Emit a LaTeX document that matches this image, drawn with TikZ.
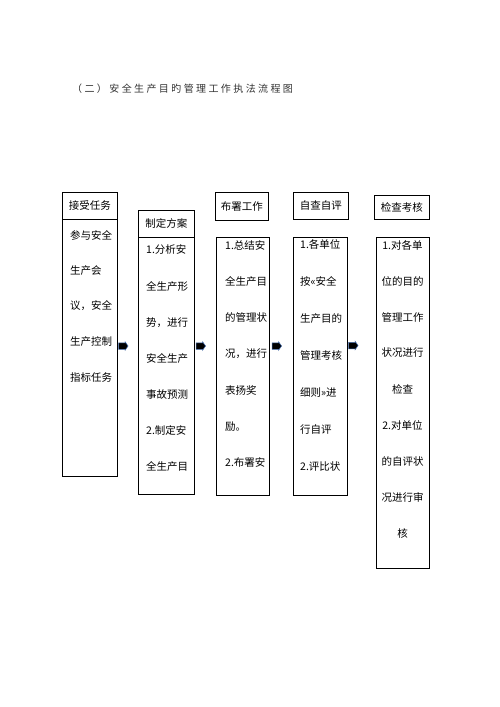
\documentclass[tikz,border=0pt]{standalone}
\usepackage{fontspec}
\setmainfont{Noto Sans CJK SC}
\usetikzlibrary{shapes.arrows}

\begin{document}
\begin{tikzpicture}[x=1pt, y=-1pt,
	box/.style={draw, line width=0.8pt, inner sep=0pt, anchor=north west,
		font=\fontsize{10.5}{12}\selectfont},
	txt/.style={anchor=west, inner sep=0pt, font=\fontsize{10.5}{12}\selectfont},
	blockarrow/.style={single arrow, fill=black, draw={rgb,255:red,70;green,110;blue,175},
		line width=0.5pt, minimum height=9.5pt, minimum width=8pt,
		single arrow head extend=1pt, single arrow tip angle=110,
		inner xsep=0pt, inner ysep=3pt, anchor=west}]

	\useasboundingbox (0,0) rectangle (500,707);

	% === TITLE === (((
	\node [anchor=west, inner sep=0pt, text=black!80,
		font=\fontsize{10}{12}\selectfont\addfontfeatures{LetterSpace=24}]
		(title) at (72,89) {（二）安全生产目旳管理工作执法流程图};
	% )))

	% === HEADERS === (((
	\node [box, minimum width=55pt, minimum height=27pt] (hd1) at (62,192) {接受任务};
	\node [box, minimum width=56pt, minimum height=27pt] (hd2) at (138,210) {制定方案};
	\node [box, minimum width=53pt, minimum height=28pt] (hd3) at (215,192) {布署工作};
	\node [box, minimum width=55pt, minimum height=27pt] (hd4) at (293,192) {自查自评};
	\node [box, minimum width=55pt, minimum height=24pt] (hd5) at (374,195) {检查考核};
	% )))

	% === BODIES === (((
	\node [box, minimum width=55pt, minimum height=257pt] (bd1) at (62,219) {};
	\node [box, minimum width=56pt, minimum height=257pt] (bd2) at (138,237) {};
	\node [box, minimum width=53pt, minimum height=258pt] (bd3) at (216,237) {};
	\node [box, minimum width=54pt, minimum height=258pt] (bd4) at (293,237) {};
	\node [box, minimum width=53pt, minimum height=331pt] (bd5) at (376,237) {};

	\foreach \s [count=\i] in {参与安全,生产会,议，安全,生产控制,指标任务}
		\node [txt] (ta-\i) at (70,{235+35.5*(\i-1)}) {\s};
	\foreach \s [count=\i] in {1.分析安,全生产形,势，进行,安全生产,事故预测,2.制定安,全生产目}
		\node [txt] (tb-\i) at (146,{250+36.1*(\i-1)}) {\s};
	\foreach \s [count=\i] in {1.总结安,全生产目,的管理状,况，进行,表扬奖,励。,2.布署安}
		\node [txt] (tc-\i) at (225,{245+36.3*(\i-1)}) {\s};
	\foreach \s [count=\i] in {1.各单位,按«安全,生产目的,管理考核,细则»进,行自评,2.评比状}
		\node [txt] (td-\i) at (300,{244+37.1*(\i-1)}) {\s};
	\foreach \s [count=\i] in {1.对各单,位的目的,管理工作,状况进行,检查,2.对单位,的自评状,况进行审,核}
		\node [txt, anchor=center] (te-\i) at (402.5,{245+36*(\i-1)}) {\s};
	% )))

	% === ARROWS === (((
	\coordinate (mid) at (0,346);
	\node [blockarrow] (ar1) at ([xshift=0.5pt]bd1.east |- mid) {};
	\node [blockarrow] (ar2) at ([xshift=1pt]bd2.east |- mid) {};
	\node [blockarrow] (ar3) at ([xshift=2pt]bd3.east |- mid) {};
	\node [blockarrow] (ar4) at ([xshift=0.5pt,yshift=0.5pt]bd4.east |- mid) {};
	% )))

\end{tikzpicture}
\end{document}
